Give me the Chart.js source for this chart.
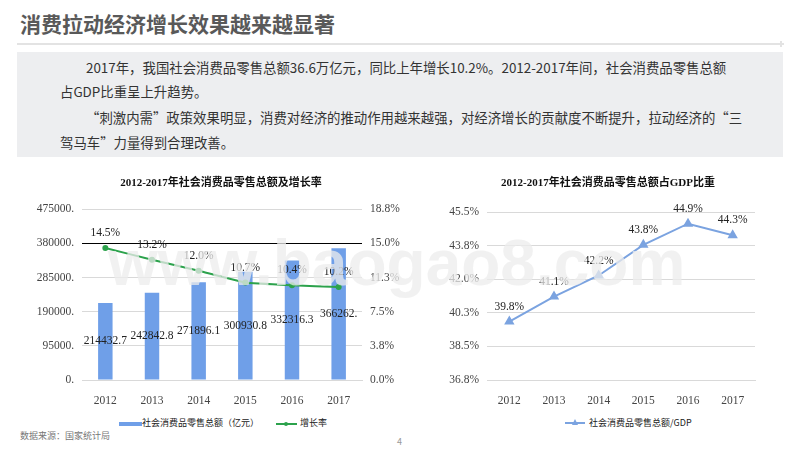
<!DOCTYPE html>
<html>
<head>
<meta charset="utf-8">
<script src="https://cdn.jsdelivr.net/npm/chart.js@4"></script>
<style>
    html, body { margin: 0; padding: 0; background: #fff; }
    body { width: 800px; height: 450px; position: relative; overflow: hidden; font-family: "Noto Sans CJK SC", sans-serif; }
    .abs { position: absolute; white-space: nowrap; }
    canvas { position: absolute; }
    #title { left: 20px; top: 8px; font-size: 21px; line-height: 30px; font-weight: 700; color: #595959; }
    #rule { left: 17px; top: 43px; width: 763px; height: 2px; background: #e3e3e3; }
    #box { left: 17px; top: 52px; width: 766px; height: 105px; background: #edeef0; }
    .para { font-size: 13.4px; line-height: 20px; color: #333; }
    .lg { font-size: 9px; line-height: 12px; color: #222; }
    #source { left: 20px; top: 430px; font-size: 9px; line-height: 12px; color: #777; }
    #page { left: 397px; top: 436px; font-size: 9px; line-height: 12px; color: #999; }
    #watermark { left: 108px; top: 226px; font-family: "Liberation Sans", sans-serif; font-size: 64px; line-height: 74px; font-weight: 700; color: rgba(236, 236, 236, 0.75); pointer-events: none; }
</style>
</head>
<body>
<div class="abs" id="title">消费拉动经济增长效果越来越显著</div>
<div class="abs" id="rule"></div>
<div class="abs" style="left:778px;top:43px;width:6px;height:2px;background:#e3e3e3"></div>
<div class="abs" style="left:780px;top:41px;width:2px;height:6px;background:#e3e3e3"></div>
<div class="abs" id="box"></div>
<div class="abs para" style="left:86px;top:57px">2017年，我国社会消费品零售总额36.6万亿元，同比上年增长10.2%。2012-2017年间，社会消费品零售总额</div>
<div class="abs para" style="left:60px;top:81px">占GDP比重呈上升趋势。</div>
<div class="abs para" style="left:86px;top:107px">“刺激内需”政策效果明显，消费对经济的推动作用越来越强，对经济增长的贡献度不断提升，拉动经济的“三</div>
<div class="abs para" style="left:60px;top:132px">驾马车”力量得到合理改善。</div>

<canvas id="chartRetail" style="left:30px;top:170px"></canvas>
<canvas id="chartShare" style="left:440px;top:170px"></canvas>

<div class="abs" style="left:119px;top:422px;width:23px;height:4px;background:#6f9fe8"></div>
<div class="abs lg" style="left:142px;top:417px">社会消费品零售总额（亿元）</div>
<div class="abs" style="left:276px;top:423px;width:21px;height:2px;background:#2ca24c"></div>
<div class="abs" style="left:284px;top:422px;width:4px;height:4px;border-radius:2px;background:#2ca24c"></div>
<div class="abs lg" style="left:300px;top:417px">增长率</div>
<div class="abs" style="left:565px;top:422px;width:20px;height:2px;background:#7ba3e0"></div>
<div class="abs" style="left:572px;top:419px;width:0;height:0;border-left:3.5px solid transparent;border-right:3.5px solid transparent;border-bottom:6px solid #7ba3e0"></div>
<div class="abs lg" style="left:589px;top:417px">社会消费品零售总额/GDP</div>

<div class="abs" id="source">数据来源：国家统计局</div>
<div class="abs" id="page">4</div>
<div class="abs" id="watermark">www.baogao8.com</div>

<script>
const years = ["2012", "2013", "2014", "2015", "2016", "2017"];
const retailTotal = [214432.7, 242842.8, 271896.1, 300930.8, 332316.3, 366262];
const retailLabels = ["214432.7", "242842.8", "271896.1", "300930.8", "332316.3", "366262."];
const growthRate = [14.5, 13.2, 12.0, 10.7, 10.4, 10.2];
const gdpShare = [39.8, 41.1, 42.2, 43.8, 44.9, 44.3];

const serif = "'Liberation Serif', 'Noto Sans CJK SC', serif";
const gridColor = "#d9d9d9";
const tickColor = "#444";

// writes the value labels, bars in the middle and lines above the point
const valueLabels = {
    id: "valueLabels",
    afterDatasetsDraw(chart) {
        const ctx = chart.ctx;
        ctx.save();
        ctx.font = "11.5px " + serif;
        ctx.fillStyle = "#222";
        ctx.textAlign = "center";
        ctx.textBaseline = "middle";
        chart.data.datasets.forEach((ds, i) => {
            chart.getDatasetMeta(i).data.forEach((el, j) => {
                if (ds.type === "bar") {
                    ctx.fillText(retailLabels[j], el.x, (el.y + el.base) / 2);
                } else {
                    ctx.fillText(ds.data[j].toFixed(1) + "%", el.x, el.y - 15);
                }
            });
        });
        ctx.restore();
    },
};

function sizeCanvas(id, w, h) {
    const c = document.getElementById(id);
    c.style.width = w + "px";
    c.style.height = h + "px";
    c.width = w;
    c.height = h;
    return c;
}

// Chart 社会消费品零售总额及增长率
new Chart(sizeCanvas("chartRetail", 382, 241), {
    data: {
        labels: years,
        datasets: [
            {
                type: "line",
                label: "增长率",
                data: growthRate,
                yAxisID: "y1",
                borderColor: "#2ca24c",
                backgroundColor: "#2ca24c",
                borderWidth: 2,
                pointRadius: 2,
                tension: 0.1,
                order: 1,
            },
            {
                type: "bar",
                label: "社会消费品零售总额（亿元）",
                data: retailTotal,
                yAxisID: "y",
                backgroundColor: "#6f9fe8",
                categoryPercentage: 1,
                barPercentage: 0.31,
                order: 2,
            },
        ],
    },
    options: {
        responsive: false,
        animation: false,
        plugins: {
            legend: { display: false },
            tooltip: { enabled: false },
            title: {
                display: true,
                text: "2012-2017年社会消费品零售总额及增长率",
                color: "#111",
                font: { family: serif, size: 11, weight: "bold" },
                padding: { top: 7, bottom: 19 },
            },
        },
        scales: {
            x: {
                grid: { display: false },
                border: { color: gridColor },
                ticks: { color: tickColor, font: { family: serif, size: 11.5 }, padding: 6 },
                afterFit: (s) => { s.height = 31; },
            },
            y: {
                min: 0,
                max: 475000,
                border: { display: false },
                grid: {
                    drawTicks: false,
                    color: (c) => (c.tick && c.tick.value === 380000 ? "#000" : gridColor),
                },
                ticks: {
                    stepSize: 95000,
                    color: tickColor,
                    padding: 8,
                    font: { family: serif, size: 11.5 },
                    callback: (v) => v + ".",
                },
                afterFit: (s) => { s.width = 52; },
            },
            y1: {
                position: "right",
                min: 0,
                max: 18.75,
                border: { display: false },
                grid: { display: false, drawTicks: false },
                ticks: {
                    stepSize: 3.75,
                    color: tickColor,
                    padding: 8,
                    font: { family: serif, size: 11.5 },
                    callback: (v) => v.toFixed(1) + "%",
                },
                afterFit: (s) => { s.width = 50; },
            },
        },
    },
    plugins: [valueLabels],
});

// Chart 社会消费品零售总额占GDP比重
new Chart(sizeCanvas("chartShare", 336, 240), {
    type: "line",
    data: {
        labels: years,
        datasets: [
            {
                label: "社会消费品零售总额/GDP",
                data: gdpShare,
                borderColor: "#7ba3e0",
                backgroundColor: "#7ba3e0",
                borderWidth: 2,
                pointStyle: "triangle",
                pointRadius: 4,
                tension: 0,
            },
        ],
    },
    options: {
        responsive: false,
        animation: false,
        plugins: {
            legend: { display: false },
            tooltip: { enabled: false },
            title: {
                display: true,
                text: "2012-2017年社会消费品零售总额占GDP比重",
                color: "#111",
                font: { family: serif, size: 11, weight: "bold" },
                padding: { top: 7, bottom: 22 },
            },
        },
        scales: {
            x: {
                offset: true,
                grid: { display: false, offset: false },
                border: { color: gridColor },
                ticks: { color: tickColor, font: { family: serif, size: 11.5 }, padding: 6 },
                afterFit: (s) => { s.height = 30; },
            },
            y: {
                min: 36.75,
                max: 45.5,
                border: { display: false },
                grid: { drawTicks: false, color: gridColor },
                ticks: {
                    stepSize: 1.75,
                    color: tickColor,
                    padding: 8,
                    font: { family: serif, size: 11.5 },
                    callback: (v) => v.toFixed(1) + "%",
                },
                afterFit: (s) => { s.width = 47; },
            },
            // empty axis, only keeps the plot off the right edge so the title sits left of plot centre
            spacer: {
                position: "right",
                border: { display: false },
                grid: { display: false },
                ticks: { display: false },
                afterFit: (s) => { s.width = 21; },
            },
        },
    },
    plugins: [valueLabels],
});
</script>
</body>
</html>
